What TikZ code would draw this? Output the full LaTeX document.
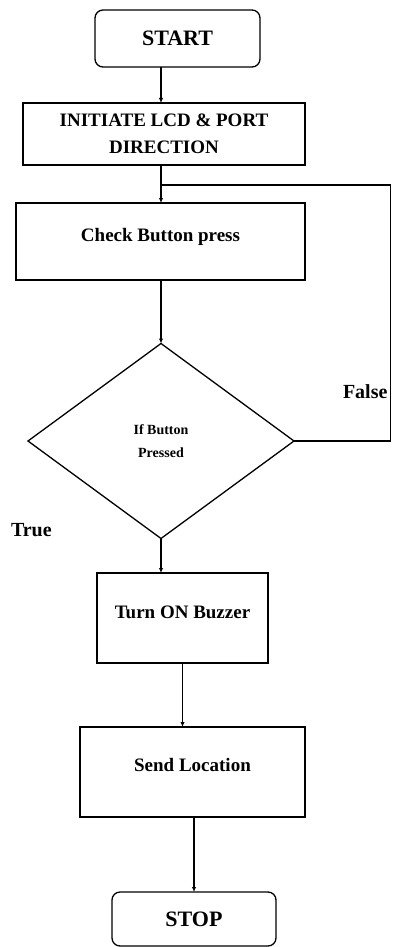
\documentclass[tikz,border=0pt]{standalone}
\usepackage{fontspec}
\setmainfont{Liberation Serif}
\usetikzlibrary{shapes.geometric,arrows.meta}
\begin{document}
\begin{tikzpicture}[x=1pt,y=-1pt,
  every node/.style={font=\bfseries, inner sep=0pt, outer sep=0pt},
  box/.style={draw, line width=1.3pt, rectangle},
  term/.style={draw, line width=1.3pt, rectangle, rounded corners=8pt},
  dia/.style={draw, line width=1.3pt, diamond, inner sep=0pt},
  link/.style={line width=1.2pt},
  arr/.style={line width=1.2pt, -{Latex[length=5pt,width=4.5pt]}},
  lab/.style={font=\bfseries\fontsize{20}{24}\selectfont}
]
\useasboundingbox (0,0) rectangle (392,947);

\node[term, minimum width=165pt, minimum height=57pt, font=\bfseries\fontsize{22}{26}\selectfont] (start) at (177.5,38.5) {START};

\node[box, minimum width=282pt, minimum height=62pt, align=center, font=\bfseries\fontsize{19}{27}\selectfont] (init) at (164,134) {INITIATE LCD \& PORT\\DIRECTION};

\node[box, minimum width=289pt, minimum height=77pt, text depth=14pt, font=\bfseries\fontsize{19}{23}\selectfont] (check) at (160.5,241.5) {Check Button press};

\node[dia, minimum width=266pt, minimum height=195pt, align=center, font=\bfseries\fontsize{14}{23}\selectfont] (dec) at (161,441) {If Button\\Pressed};

\node[box, minimum width=171pt, minimum height=90pt, text depth=12pt, font=\bfseries\fontsize{19}{23}\selectfont] (turn) at (182.5,618) {Turn ON Buzzer};

\node[box, minimum width=225pt, minimum height=90pt, text depth=14pt, font=\bfseries\fontsize{19}{23}\selectfont] (send) at (192.5,772) {Send Location};

\node[term, minimum width=164pt, minimum height=54pt, font=\bfseries\fontsize{22}{26}\selectfont] (stop) at (194,919) {STOP};

\node[lab, anchor=west] (false) at (343,392) {False};
\node[lab, anchor=west] (true) at (11,530) {True};

\coordinate (join) at (161,185);
\coordinate (loopR) at (390.5,185);

\draw[arr] (start.south -| join) -- (init.north -| join);
\draw[arr] (init.south -| join) -- (check.north -| join);
\draw[arr] (check.south -| join) -- (dec.north);
\draw[link] (dec.east) -- (dec.east -| loopR) -- (loopR) -- (join);
\draw[arr] (dec.south) -- (turn.north -| dec.south);
\draw[arr] (turn.south) -- (send.north -| turn.south);
\draw[arr] (send.south -| stop.north) -- (stop.north);
\end{tikzpicture}
\end{document}
